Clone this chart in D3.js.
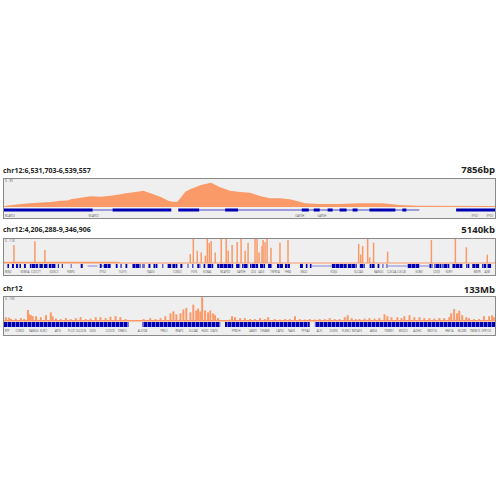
<html>
<head>
  <script src="https://d3js.org/d3.v7.min.js" charset="utf-8"></script>
  <style>
    body { margin: 0; background: #fff; }
    text { font-family: "Open Sans", "Liberation Sans", sans-serif; }
  </style>
</head>
<body>
<script>
  // ---- data ----
  var titles = ["chr12:6,531,703-6,539,557", "chr12:4,206,288-9,346,906", "chr12"];
  var spans = ["7856bp", "5140kb", "133Mb"];
  var rangeLabels = ["0 - 99", "0 - 118", "0 - 100"];

  // panel 1: coverage (bp offset from 6,531,703, reads)
  var cov1Pos = [0, 271, 478, 749, 908, 1020, 1067, 1227, 1386, 1545, 1705, 1864, 1943, 2103, 2230, 2342, 2501, 2628, 2692, 2772, 2820, 2899, 2979, 3059, 3138, 3218, 3313, 3377, 3457, 3616, 3775, 3935, 4094, 4253, 4413, 4572, 4731, 4811, 5050, 5368, 5687, 6053, 6324, 6643, 7854];
  var cov1Val = [4, 11, 15, 18, 23, 24, 28, 34, 39, 38, 41, 47, 50, 55, 60, 50, 38, 23, 19, 19, 32, 56, 65, 72, 80, 84, 89, 82, 72, 60, 55, 52, 40, 32, 32, 28, 19, 14, 11, 11, 14, 14, 7, 5, 4];
  var exons1 = [[0, 1418], [1736, 2676], [2788, 3122], [3537, 3744], [4763, 4875], [4954, 5050], [5177, 5257], [5368, 5480], [5576, 5655], [5846, 6260], [6372, 6436], [7232, 7854]];
  var introns1 = [[1418, 1736], [3122, 6436], [6436, 6643]];
  var genes1Pos = [80, 1434, 4731, 5082, 7535, 7774];
  var genes1Name = ["NCAPD2", "NCAPD2", "GAPDH", "GAPDH", "IFFO1", "IFFO1"];

  // panel 2: coverage spikes (kb offset from 4,206,288)
  var spike2Pos = [104, 323, 428, 1950, 1982, 2023, 2065, 2107, 2128, 2149, 2169, 2211, 2274, 2326, 2347, 2388, 2441, 2482, 2524, 2555, 2628, 2649, 2670, 2701, 2712, 2733, 2754, 2795, 2889, 2973, 3713, 3734, 3755, 3807, 3828, 3869, 4016, 4474, 4725, 4840, 5059];
  var spike2Val = [88, 107, 64, 44, 118, 60, 52, 36, 118, 99, 108, 52, 118, 118, 60, 89, 103, 118, 60, 99, 118, 118, 52, 83, 113, 103, 118, 75, 100, 113, 94, 42, 83, 118, 28, 100, 56, 113, 118, 77, 41];
  var base2Pos = [0, 1200, 1220, 5140];
  var base2Val = [6, 6, 3, 3];
  var genes2 = [[31, 52], [83, 104], [125, 146], [156, 177], [209, 229], [271, 355], [365, 407], [417, 459], [469, 542], [563, 574], [605, 615], [699, 709], [803, 824], [1001, 1022], [1043, 1116], [1168, 1189], [1220, 1231], [1272, 1293], [1345, 1429], [1450, 1471], [1512, 1533], [1565, 1606], [1658, 1669], [1710, 1752], [1763, 1815], [1846, 1867], [1919, 1930], [1971, 1982], [2023, 2055], [2086, 2107], [2128, 2190], [2232, 2399], [2430, 2472], [2493, 2555], [2576, 2660], [2680, 2733], [2764, 2806], [2858, 2920], [2941, 2993], [3098, 3129], [3160, 3181], [3202, 3223], [3431, 3588], [3598, 3692], [3723, 3776], [3828, 3880], [3911, 3932], [3963, 3974], [4005, 4016], [4224, 4349], [4454, 4485], [4506, 4579], [4589, 4662], [4694, 4798], [4839, 4871], [4902, 4975], [5006, 5048], [5058, 5100]];
  var introns2 = [[876, 980], [1022, 1116], [3223, 3431], [4016, 4224], [4349, 4454]];
  var genes2Pos = [42, 219, 334, 522, 699, 1033, 1241, 1533, 1815, 1992, 2128, 2316, 2482, 2608, 2691, 2837, 2973, 3139, 3452, 3713, 3922, 4057, 4162, 4349, 4527, 4662, 4954, 5058];
  var genes2Name = ["NINJ2", "KDM5A", "CCDC77", "IQSEC3", "FKBP4", "ITFG2", "TULP3", "TEAD4", "CCND2", "FGF6", "KCNA6", "NCAPD2", "GAPDH", "CD4", "LAG3", "TNFR1A", "PHB2", "ENO2", "FOXJ2", "SLC2A3", "NANOG", "CLEC4A", "CLEC4E", "KLRB1", "CD69", "KLRF1", "M6PR", "A2M"];

  // panel 3: whole chromosome (Mb)
  var cov3Pos = [0.5, 1.4, 1.9, 3.2, 4.6, 5.5, 6.5, 6.8, 7.3, 7.8, 8.7, 10.0, 11.4, 12.7, 13.2, 14.1, 15.4, 16.8, 18.1, 19.5, 20.8, 22.2, 23.5, 24.9, 26.2, 27.6, 28.9, 30.3, 31.6, 33.0, 34.3, 35.7, 37.0, 37.9, 39.7, 41.1, 42.5, 43.8, 45.2, 46.0, 46.8, 47.9, 48.7, 49.5, 50.6, 51.4, 52.2, 52.7, 53.3, 53.8, 54.6, 55.4, 56.0, 56.8, 57.3, 58.1, 58.7, 60.0, 61.4, 61.9, 62.7, 64.1, 65.4, 66.8, 68.1, 69.5, 70.8, 71.7, 73.5, 74.9, 76.3, 77.6, 79.0, 80.3, 81.7, 83.0, 84.4, 85.7, 87.1, 88.4, 89.8, 91.1, 92.5, 93.3, 94.4, 95.5, 96.5, 97.9, 99.2, 100.6, 101.9, 103.3, 104.1, 105.2, 106.8, 107.9, 108.7, 110.1, 111.4, 112.8, 114.1, 115.5, 116.8, 118.2, 119.5, 120.9, 121.4, 122.2, 123.0, 123.6, 124.4, 125.5, 126.2, 127.6, 129.0, 130.3, 131.7, 132.5, 133.0];
  var cov3Val = [16, 14, 8, 10, 12, 8, 46, 28, 24, 20, 20, 16, 24, 36, 20, 10, 8, 12, 8, 12, 16, 8, 10, 16, 16, 12, 18, 20, 16, 8, 2, 2, 2, 8, 12, 8, 12, 20, 32, 40, 28, 32, 48, 55, 36, 68, 44, 52, 40, 99, 44, 36, 44, 32, 24, 12, 4, 4, 6, 20, 16, 12, 12, 8, 8, 12, 8, 16, 8, 6, 8, 8, 20, 8, 6, 8, 6, 8, 8, 12, 8, 8, 16, 24, 12, 8, 8, 10, 12, 10, 12, 28, 20, 16, 16, 12, 20, 24, 16, 16, 12, 12, 10, 12, 12, 16, 32, 50, 32, 43, 24, 16, 12, 8, 8, 20, 20, 24, 16];
  var band3 = [[0, 33.8], [37.6, 58.7], [60.0, 83.0], [84.4, 133.3]];
  var genes3Pos = [0.5, 4.3, 8.1, 10.8, 14.6, 18.4, 20.8, 24.1, 28.9, 32.2, 37.6, 43.5, 47.6, 51.4, 54.6, 57.0, 63.0, 67.6, 70.8, 74.9, 78.1, 81.9, 85.7, 89.5, 93.0, 95.7, 100.3, 104.6, 108.4, 112.2, 116.3, 120.9, 124.4, 127.9, 130.9];
  var genes3Name = ["RFP", "CCND2", "NANOG", "KLRC1", "ART4", "PLCZ1", "SLCO1B", "SOX5", "CCDC91", "DNM1L", "ALG10B", "PRKL1", "RPAP3", "SLC4A8", "HOXC", "STAT6", "PPM1H", "CAND1", "TSPAN8", "CAPS2", "NAV3", "PPFIA2", "ALX1", "DUSP6", "PLXNC1", "METAP2", "ANO4", "TXNRD1", "WSCD2", "ALDH2", "MED13L", "HNF1A", "NCOR2", "TMEM13", "GPR133"];

  var orange = "#fb9a69", blue = "#0000b2";

  var svg = d3.select("body").append("svg")
      .attr("width", 500).attr("height", 500);

  var defs = svg.append("defs");
  var pat = defs.append("pattern").attr("id", "dense")
      .attr("patternUnits", "userSpaceOnUse").attr("width", 4).attr("height", 10);
  pat.append("rect").attr("width", 4).attr("height", 10).attr("fill", blue);
  pat.append("rect").attr("x", 3).attr("width", 1).attr("height", 10).attr("fill", "#6a6ad6");

  // panel frames
  var panels = [
    {top: 178, bottom: 218, titleY: 173, spanY: 173, base: 207, covTop: 180, gene: 210, lab: 216.5},
    {top: 238, bottom: 275, titleY: 231.5, spanY: 232.5, base: 263, covTop: 238, gene: 266, lab: 272.5},
    {top: 296, bottom: 335, titleY: 291, spanY: 292.5, base: 321, covTop: 296, gene: 324.5, lab: 332}
  ];

  panels.forEach(function(p, i) {
    svg.append("text").attr("x", 3).attr("y", p.titleY)
      .attr("font-size", 7).attr("font-weight", "bold").attr("fill", "#222")
      .text(titles[i]);
    svg.append("text").attr("x", 495).attr("y", p.spanY)
      .attr("text-anchor", "end").attr("font-size", 9.5).attr("font-weight", "bold").attr("fill", "#222")
      .text(spans[i]);
    svg.append("rect").attr("x", 3.5).attr("y", p.top + 0.5)
      .attr("width", 492).attr("height", p.bottom - p.top)
      .attr("fill", "#efefef").attr("stroke", "#8a8a8a").attr("stroke-width", 1);
    svg.append("text").attr("x", 5).attr("y", p.top + 3.5)
      .attr("font-size", 3).attr("fill", "#555").text(rangeLabels[i]);
  });

  // tiny gene names, kept inside the frame and apart from each other
  function geneLabels(g, x, pos, names, y) {
    var lastEnd = 4;
    g.selectAll(".lab").data(pos).enter().append("text")
      .attr("y", y)
      .attr("font-size", 2.6)
      .attr("fill", "#555")
      .text(function(d, i) { return names[i]; })
      .each(function(d) {
        var w = this.getComputedTextLength();
        var left = Math.max(x(d) - w / 2, lastEnd + 0.8);
        left = Math.min(left, 495 - w);
        d3.select(this).attr("x", left);
        lastEnd = left + w;
      });
  }

  // ---- panel 1 ----
  var p = panels[0];
  var x1 = d3.scaleLinear().domain([0, 7854]).range([4, 495]);
  var y1 = d3.scaleLinear().domain([0, 99]).range([p.base, p.covTop]);
  var g1 = svg.append("g");
  g1.append("path")
    .datum(cov1Pos.map(function(d, i) { return [d, cov1Val[i]]; }))
    .attr("fill", orange)
    .attr("d", d3.area().x(function(d) { return x1(d[0]); }).y0(p.base).y1(function(d) { return y1(d[1]); }));
  g1.selectAll(".intron").data(introns1).enter().append("line")
    .attr("x1", function(d) { return x1(d[0]); }).attr("x2", function(d) { return x1(d[1]); })
    .attr("y1", p.gene).attr("y2", p.gene).attr("stroke", blue).attr("stroke-width", 0.7);
  g1.selectAll(".exon").data(exons1).enter().append("rect")
    .attr("x", function(d) { return x1(d[0]); })
    .attr("width", function(d) { return x1(d[1]) - x1(d[0]); })
    .attr("y", p.gene - 1.5).attr("height", 3).attr("fill", blue);
  geneLabels(g1, x1, genes1Pos, genes1Name, p.lab);

  // ---- panel 2 ----
  p = panels[1];
  var x2 = d3.scaleLinear().domain([0, 5140]).range([4, 495]);
  var y2 = d3.scaleLinear().domain([0, 118]).range([p.base, p.covTop + 1]);
  var g2 = svg.append("g");
  g2.append("path")
    .datum(base2Pos.map(function(d, i) { return [d, base2Val[i]]; }))
    .attr("fill", orange)
    .attr("d", d3.area().x(function(d) { return x2(d[0]); }).y0(p.base + 0.5).y1(function(d) { return y2(d[1]); }));
  g2.selectAll(".spike").data(spike2Pos).enter().append("rect")
    .attr("x", function(d) { return x2(d) - 0.75; })
    .attr("width", 1.5)
    .attr("y", function(d, i) { return y2(spike2Val[i]); })
    .attr("height", function(d, i) { return p.base - y2(spike2Val[i]); })
    .attr("fill", orange);
  g2.selectAll(".intron").data(introns2).enter().append("line")
    .attr("x1", function(d) { return x2(d[0]); }).attr("x2", function(d) { return x2(d[1]); })
    .attr("y1", p.gene).attr("y2", p.gene).attr("stroke", "#6a6ad6").attr("stroke-width", 0.8);
  g2.selectAll(".gene").data(genes2).enter().append("rect")
    .attr("x", function(d) { return x2(d[0]); })
    .attr("width", function(d) { return Math.max(1, x2(d[1]) - x2(d[0])); })
    .attr("y", p.gene - 2).attr("height", 4).attr("fill", "url(#dense)");
  geneLabels(g2, x2, genes2Pos, genes2Name, p.lab);

  // ---- panel 3 ----
  p = panels[2];
  var x3 = d3.scaleLinear().domain([0, 133.3]).range([4, 495]);
  var y3 = d3.scaleLinear().domain([0, 100]).range([p.base, p.covTop + 1]);
  var g3 = svg.append("g");
  g3.append("rect").attr("x", x3(0)).attr("width", x3(133.3) - x3(0))
    .attr("y", p.base - 1).attr("height", 1.5).attr("fill", orange);
  g3.selectAll(".bar").data(cov3Pos).enter().append("rect")
    .attr("x", function(d) { return x3(d) - 1; })
    .attr("width", 2)
    .attr("y", function(d, i) { return y3(cov3Val[i]); })
    .attr("height", function(d, i) { return p.base - y3(cov3Val[i]); })
    .attr("fill", orange);
  g3.selectAll(".band").data(band3).enter().append("rect")
    .attr("x", function(d) { return x3(d[0]); })
    .attr("width", function(d) { return x3(d[1]) - x3(d[0]); })
    .attr("y", p.gene - 2.5).attr("height", 5).attr("fill", "url(#dense)");
  geneLabels(g3, x3, genes3Pos, genes3Name, p.lab);
</script>
</body>
</html>
